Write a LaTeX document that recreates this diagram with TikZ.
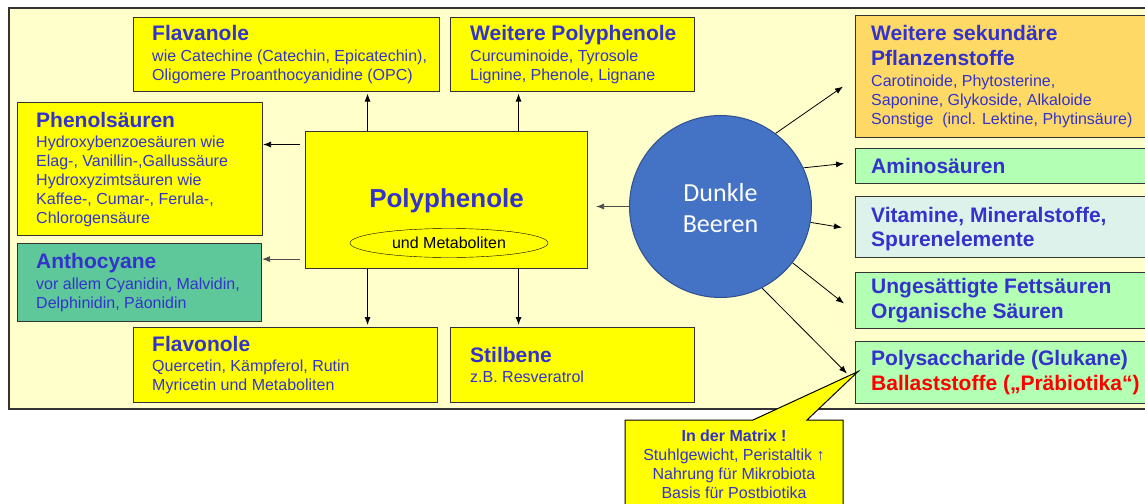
\documentclass[tikz,border=0pt]{standalone}
\usepackage{fontspec}
\setmainfont{Liberation Sans}
\newfontfamily\carlito{Carlito}
\usetikzlibrary{calc,positioning,shapes.geometric,arrows.meta}
\usepackage{xcolor}
\definecolor{txtblue}{HTML}{3333CC}
\definecolor{bgyellow}{HTML}{FFFFCC}
\definecolor{boxyellow}{HTML}{FFFF00}
\definecolor{antgreen}{HTML}{5EC89A}
\definecolor{sekorange}{HTML}{FFD966}
\definecolor{lightgreen}{HTML}{B3FFB3}
\definecolor{vitmint}{HTML}{DDF2EA}
\definecolor{berryblue}{HTML}{4472C4}
\definecolor{berryline}{HTML}{2F4F8F}
\definecolor{boxline}{HTML}{333333}
\newcommand{\boxbody}{\fontsize{16}{19}\selectfont}
\newcommand{\boxhead}{\fontsize{21}{24.5}\selectfont\bfseries}

\begin{document}
\begin{tikzpicture}[x=1pt,y=-1pt,
    box/.style={draw=boxline, line width=1.1pt, anchor=north west, inner sep=0pt},
    txt/.style={anchor=west, align=left, inner sep=0pt, text=txtblue, font=\boxbody},
    arr/.style={-{Latex[length=8pt,width=6pt]}, line width=0.8pt}]
    \useasboundingbox (0,0) rectangle (1145,503);
    % pale background panel
    \draw[fill=bgyellow, draw=boxline, line width=1.3pt] (9,8) rectangle (1170,409);

    % boxes round the Polyphenole
    \node[box, fill=boxyellow, minimum width=306pt, minimum height=74pt] (fla) at (133,17) {};
    \node[txt] (flatxt) at ([xshift=19pt]fla.west) {{\boxhead Flavanole}\\[1.5pt]wie Catechine (Catechin, Epicatechin),\\Oligomere Proanthocyanidine (OPC)};
    \node[box, fill=boxyellow, minimum width=244pt, minimum height=74pt] (wpoly) at (450,17) {};
    \node[txt] (wpolytxt) at ([xshift=20pt]wpoly.west) {{\boxhead Weitere Polyphenole}\\[1.5pt]Curcuminoide, Tyrosole\\Lignine, Phenole, Lignane};
    \node[box, fill=boxyellow, minimum width=245pt, minimum height=133pt] (phen) at (17,102) {};
    \node[txt] (phentxt) at ([xshift=19pt]phen.west) {{\boxhead Phenolsäuren}\\[1pt]Hydroxybenzoesäuren wie\\Elag-, Vanillin-,Gallussäure\\Hydroxyzimtsäuren wie\\Kaffee-, Cumar-, Ferula-,\\Chlorogensäure};
    \node[box, fill=antgreen, minimum width=244pt, minimum height=78pt] (antho) at (17,243) {};
    \node[txt] (anthotxt) at ([xshift=19pt]antho.west) {{\boxhead Anthocyane}\\[1.5pt]vor allem Cyanidin, Malvidin,\\Delphinidin, Päonidin};
    \node[box, fill=boxyellow, minimum width=304pt, minimum height=75pt] (flo) at (133,327) {};
    \node[txt] (flotxt) at ([xshift=19pt]flo.west) {{\boxhead Flavonole}\\[1.5pt]Quercetin, Kämpferol, Rutin\\Myricetin und Metaboliten};
    \node[box, fill=boxyellow, minimum width=244pt, minimum height=75pt] (stil) at (450,327) {};
    \node[txt] (stiltxt) at ([xshift=20pt]stil.west) {{\boxhead Stilbene}\\[1.5pt]z.B. Resveratrol};

    \node[box, fill=boxyellow, minimum width=282pt, minimum height=137pt, text=txtblue,
          font=\fontsize{26}{30}\selectfont\bfseries] (polyph) at (305,131) {};
    \node[text=txtblue, font=\fontsize{26}{30}\selectfont\bfseries, inner sep=0pt]
          (polytitle) at ($(polyph.center)+(0,1)$) {Polyphenole};
    \node[ellipse, draw, fill=boxyellow, minimum width=198pt, minimum height=29pt, inner sep=0pt,
          font=\boxbody] (metab) at (449,243) {und Metaboliten};

    % boxes on the right
    \node[box, fill=sekorange, minimum width=320pt, minimum height=122pt] (sek) at (855,15) {};
    \node[txt] (sektxt) at ([xshift=16pt]sek.west) {{\boxhead Weitere sekundäre}\\[6pt]{\boxhead Pflanzenstoffe}\\[2pt]Carotinoide, Phytosterine,\\Saponine, Glykoside, Alkaloide\\Sonstige\ \ (incl. Lektine, Phytinsäure)};
    \node[box, fill=lightgreen, minimum width=320pt, minimum height=35pt] (amino) at (855,148) {};
    \node[txt, font=\boxhead] (aminotxt) at ([xshift=16pt]amino.west) {Aminosäuren};
    \node[box, fill=vitmint, minimum width=320pt, minimum height=61pt] (vit) at (855,196) {};
    \node[txt, font=\boxhead] (vittxt) at ([xshift=16pt,yshift=-2pt]vit.west) {Vitamine, Mineralstoffe,\\Spurenelemente};
    \node[box, fill=lightgreen, minimum width=320pt, minimum height=56pt] (fett) at (855,272) {};
    \node[txt, font=\boxhead] (fetttxt) at ([xshift=16pt]fett.west) {Ungesättigte Fettsäuren\\Organische Säuren};
    \node[box, fill=lightgreen, minimum width=320pt, minimum height=62pt] (polysac) at (855,341) {};
    \node[txt, font=\boxhead] (polysactxt) at ([xshift=16pt]polysac.west) {Polysaccharide (Glukane)\\\textcolor{red}{Ballaststoffe („Präbiotika“)}};

    \node[circle, draw=berryline, line width=1pt, fill=berryblue, minimum size=182pt, inner sep=0pt] (beeren) at (720.5,206.5) {};
    \node[text=white, align=center, font=\carlito\fontsize{26}{31}\selectfont, inner sep=0pt]
          (beerentxt) at ($(beeren.center)+(0,2)$) {Dunkle\\Beeren};

    % arrows from Polyphenole
    \draw[arr, shorten >=1.5pt] ($(polyph.north)+(-79,0)$) coordinate (u1) -- (u1 |- fla.south);
    \draw[arr, shorten >=1.5pt] ($(polyph.north)+(72,0)$) coordinate (u2) -- (u2 |- wpoly.south);
    \draw[arr, shorten >=2pt] ($(polyph.south)+(-79,0)$) coordinate (d1) -- (d1 |- flo.north);
    \draw[arr, shorten >=2pt] ($(polyph.south)+(72,0)$) coordinate (d2) -- (d2 |- stil.north);
    \draw[arr] ($(polyph.north west)+(-5,13.5)$) coordinate (l1) -- (l1 -| phen.east);
    \draw[arr, draw=black!70] ($(polyph.south west)+(-5,-10)$) coordinate (l2) -- (l2 -| antho.east);

    % arrows from the berries
    \draw[arr, draw=black!70] (beeren.west) -- ([xshift=8pt]beeren.west -| polyph.east);
    \draw[arr] (beeren.53) -- ($(sek.west)+(-12,10)$);
    \draw[arr] (beeren.25) -- ($(amino.west)+(-11,-2.5)$);
    \draw[arr] (beeren.-10) -- ($(vit.west)+(-13,0.5)$);
    \draw[arr] (beeren.-38) -- ($(fett.west)+(-11,3)$);
    \draw[arr] (beeren.-63) -- ($(polysac.west)+(-8,1)$);

    % callout under the panel
    \draw[fill=boxyellow, draw=black, line width=1pt] (625,420) -- (753,420) -- ($(polysac.west)+(3,-1)$)
        -- (807,420) -- (843,420) -- (843,515) -- (625,515) -- cycle;
    \node[align=center, anchor=north, inner sep=0pt, text=txtblue, font=\fontsize{16}{19}\selectfont]
        (matrixtxt) at (734,429.5) {\textbf{In der Matrix !}\\Stuhlgewicht, Peristaltik ↑\\Nahrung für Mikrobiota\\Basis für Postbiotika};
\end{tikzpicture}
\end{document}
